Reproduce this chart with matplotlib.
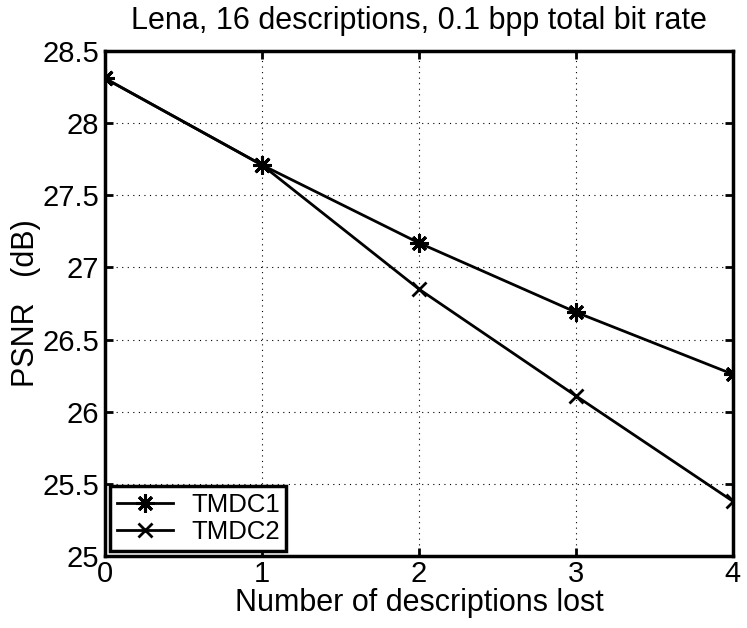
import matplotlib
matplotlib.use("Agg")
import matplotlib.pyplot as plt

# data
lost = [0, 1, 2, 3, 4]
tmdc1 = [28.31, 27.71, 27.17, 26.69, 26.26]
tmdc2 = [28.31, 27.71, 26.85, 26.11, 25.38]
yticks = [25, 25.5, 26, 26.5, 27, 27.5, 28, 28.5]
ytick_labels = ["25", "25.5", "26", "26.5", "27", "27.5", "28", "28.5"]

plt.rcParams['font.family'] = ['Liberation Sans', 'DejaVu Sans']

fig = plt.figure(figsize=(7.47, 6.28), dpi=100)
ax = fig.add_axes([0.1406, 0.1146, 0.8404, 0.8042])

# matlab style asterisk: 8 spokes
ax.plot(lost, tmdc1, color='black', lw=2, marker=(8, 2, 0), ms=13, mew=2.2, label='TMDC1')
ax.plot(lost, tmdc2, color='black', lw=2, marker='x', ms=10, mew=2, label='TMDC2')

ax.set_xlim(0, 4)
ax.set_ylim(25, 28.5)
ax.set_xticks(lost)
ax.set_yticks(yticks)
ax.set_yticklabels(ytick_labels)
ax.grid(True, color='black', linestyle=(0, (1, 4)), lw=0.8)
ax.tick_params(direction='in', top=True, right=True, length=6, width=2,
               labelsize=21, pad=4)
ax.tick_params(axis='x', pad=3)
for s in ax.spines.values():
    s.set_linewidth(2.5)

ax.set_title('Lena, 16 descriptions, 0.1 bpp total bit rate', fontsize=22, pad=16)
ax.set_xlabel('Number of descriptions lost', fontsize=22, labelpad=0)
ax.set_ylabel('PSNR   (dB)', fontsize=22, labelpad=1)

leg = ax.legend(loc='lower left', fontsize=18.5, frameon=True, fancybox=False,
                borderaxespad=0.2, handlelength=2.2, handletextpad=0.7,
                borderpad=0.25, labelspacing=0.15)
leg.get_frame().set_edgecolor('black')
leg.get_frame().set_linewidth(2.5)
leg.get_frame().set_alpha(1)

fig.savefig('out.png', dpi=100)
